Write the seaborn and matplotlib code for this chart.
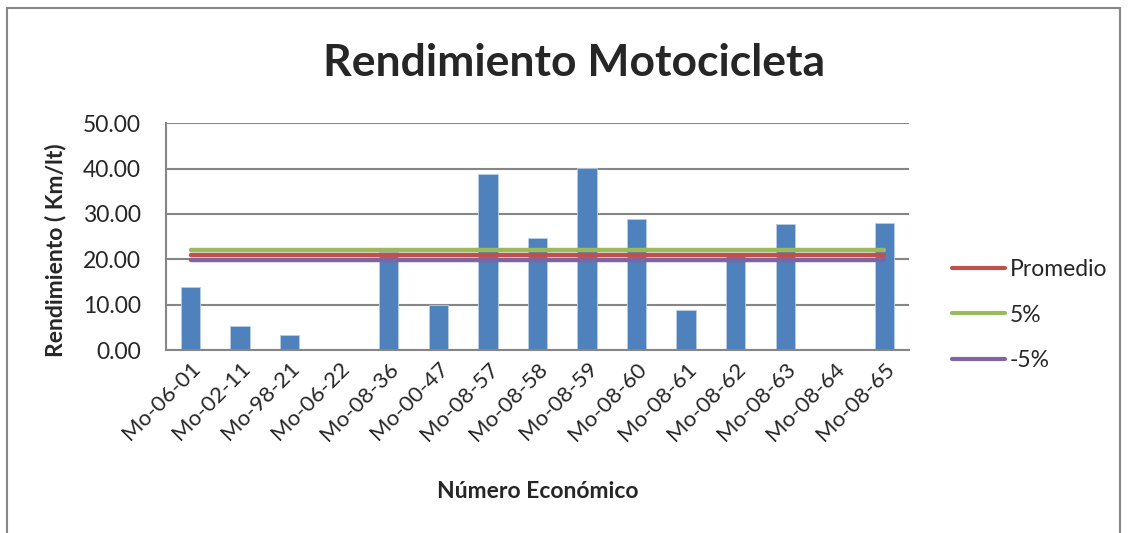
import numpy as np
import pandas as pd
import matplotlib
matplotlib.use('Agg')
import matplotlib.pyplot as plt
import seaborn as sns
from matplotlib.lines import Line2D

# Data
unidades = ['Mo-06-01', 'Mo-02-11', 'Mo-98-21', 'Mo-06-22', 'Mo-08-36',
            'Mo-00-47', 'Mo-08-57', 'Mo-08-58', 'Mo-08-59', 'Mo-08-60',
            'Mo-08-61', 'Mo-08-62', 'Mo-08-63', 'Mo-08-64', 'Mo-08-65']
rendimiento = [13.9, 5.4, 3.4, 0.0, 21.7, 9.9, 38.9, 24.8, 40.2, 28.9,
               8.8, 20.8, 27.8, 0.0, 27.9]
promedio = 21.0
mas_5 = 22.05
menos_5 = 19.95
y_ticks = [0, 10, 20, 30, 40, 50]

df = pd.DataFrame({'Unidad': unidades, 'Rendimiento': rendimiento})

sns.set_style('white')
plt.rcParams['font.family'] = ['Lato', 'DejaVu Sans']

fig = plt.figure(figsize=(11.28, 5.33), dpi=100)
ax = fig.add_axes([0.147, 0.343, 0.659, 0.426])

sns.barplot(data=df, x='Unidad', y='Rendimiento', color='#4F81BD',
            saturation=1, width=0.39, ax=ax, edgecolor='#B9CDE5', linewidth=0.6)

pos = np.arange(len(unidades))
ax.plot(pos, [mas_5] * len(pos), color='#9BBB59', lw=3.2, solid_capstyle='round', zorder=4)
ax.plot(pos, [promedio] * len(pos), color='#C0504D', lw=3.2, solid_capstyle='round', zorder=4)
ax.plot(pos, [menos_5] * len(pos), color='#8064A2', lw=3.2, solid_capstyle='round', zorder=4)

ax.set_xlim(-0.5, len(unidades) - 0.5)
ax.set_ylim(0, 50)
ax.set_yticks(y_ticks)
ax.set_yticklabels([f'{v:.2f}' for v in y_ticks], fontsize=16.5)
ax.yaxis.grid(True, color='#868686', lw=1.5)
ax.set_axisbelow(True)
ax.set_xticks(pos)
ax.set_xticklabels(unidades, rotation=45, ha='right', rotation_mode='anchor', fontsize=16)
ax.tick_params(axis='y', length=6, color='#868686', width=1.5, pad=12)
ax.tick_params(axis='x', length=0, pad=6)

for s in ['top', 'right']:
    ax.spines[s].set_visible(False)
for s in ['left', 'bottom']:
    ax.spines[s].set_color('#868686')
    ax.spines[s].set_linewidth(1.5)

ax.set_xlabel('Número Económico', fontsize=16.5, fontweight='bold')
ax.xaxis.set_label_coords(0.5, -0.575)
ax.set_ylabel('Rendimiento ( Km/lt)', fontsize=16.5, fontweight='bold')
ax.yaxis.set_label_coords(-0.134, 0.44)
fig.text(0.509, 0.882, 'Rendimiento Motocicleta', ha='center', va='center',
         fontsize=32, fontweight='bold')

handles = [Line2D([], [], color='#C0504D', lw=3),
           Line2D([], [], color='#9BBB59', lw=3),
           Line2D([], [], color='#8064A2', lw=3)]
fig.legend(handles, ['Promedio', '5%', '-5%'], loc='center left',
           bbox_to_anchor=(0.826, 0.409), frameon=False, fontsize=16.5,
           handlelength=2.3, handletextpad=0.2, labelspacing=1.05)

# outer chart border
fig.add_artist(Line2D([0.006, 0.006], [-0.01, 0.985], color='#868686', lw=1.5))
fig.add_artist(Line2D([0.006, 0.993], [0.985, 0.985], color='#868686', lw=1.5))
fig.add_artist(Line2D([0.993, 0.993], [-0.01, 0.985], color='#868686', lw=1.5))

fig.savefig('out.png', dpi=100)
